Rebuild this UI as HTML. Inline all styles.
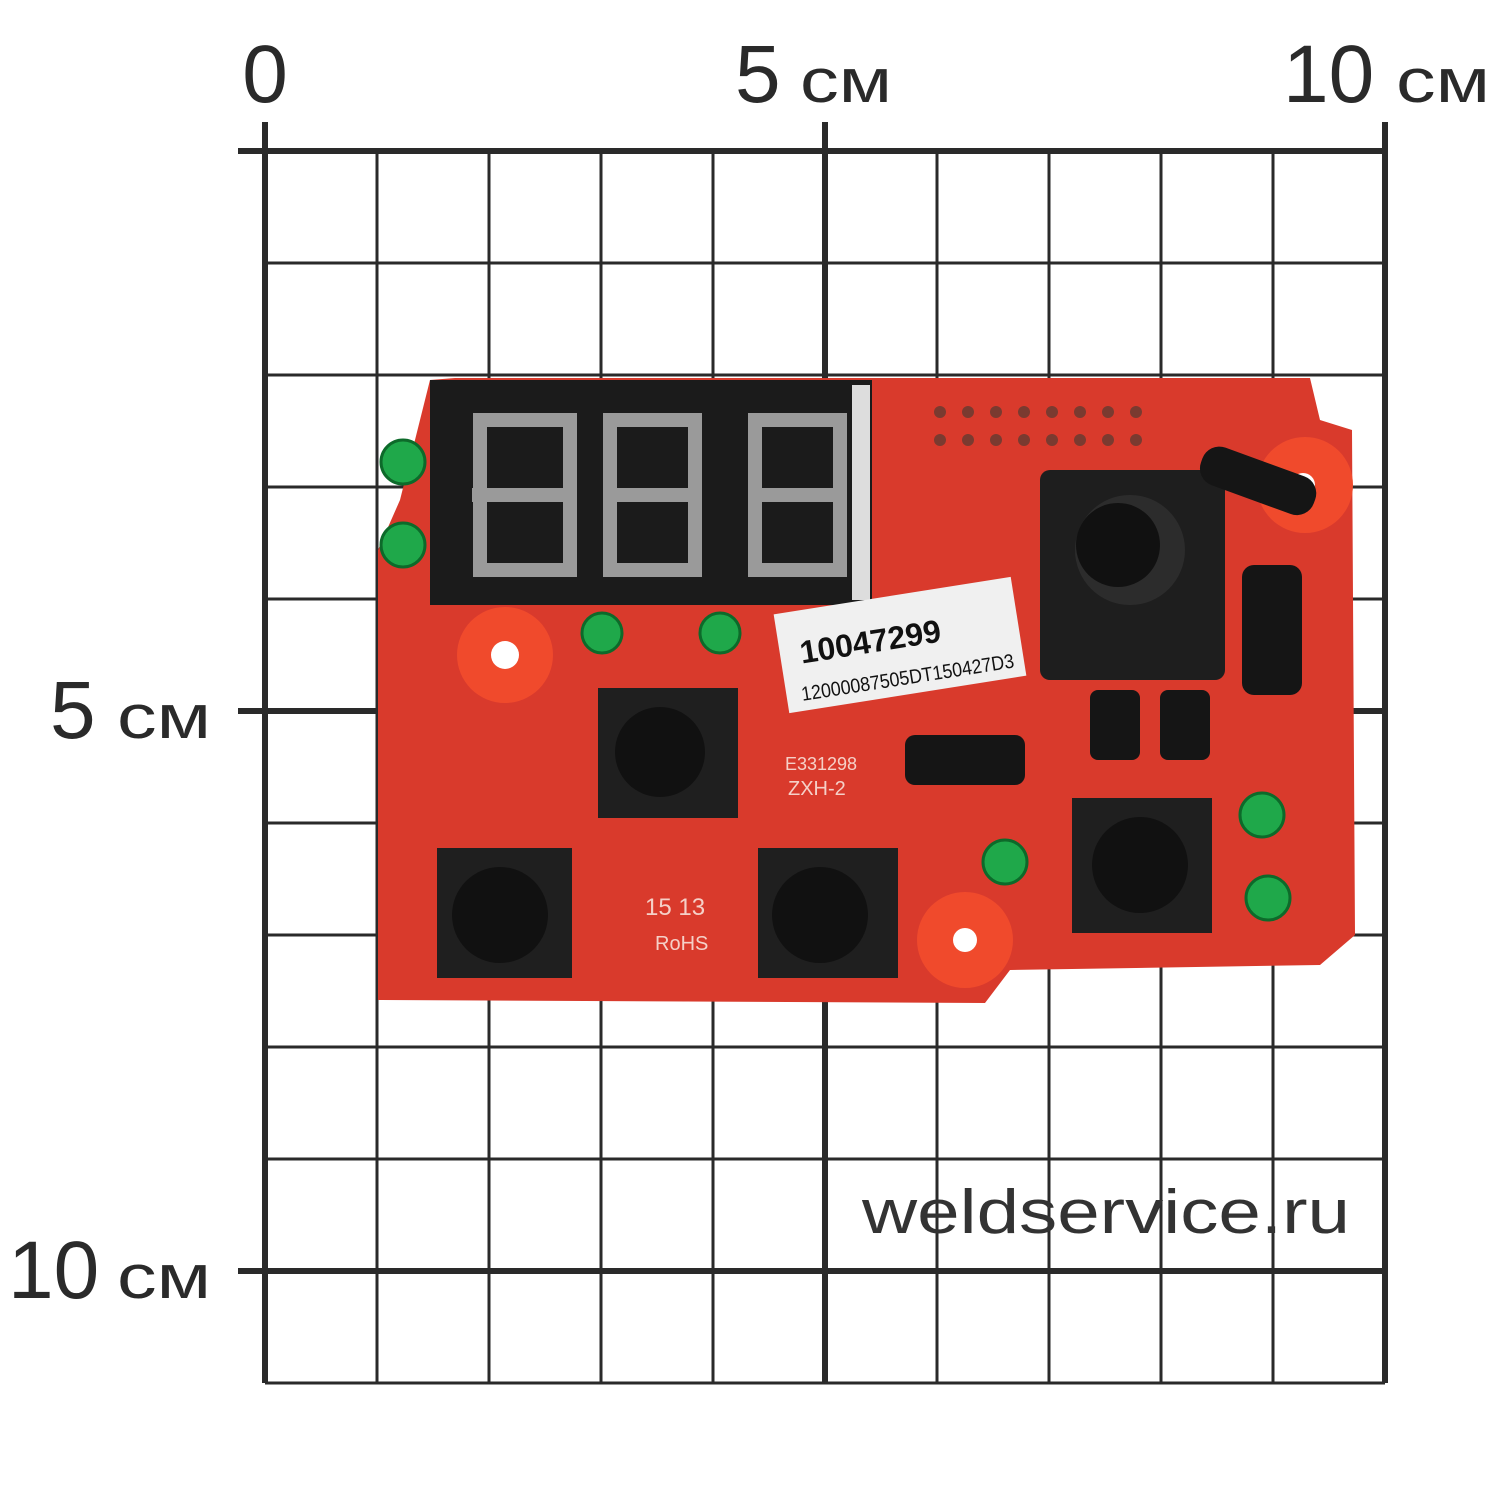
<!DOCTYPE html>
<html><head><meta charset="utf-8"><style>
html,body{margin:0;padding:0;background:#fff;}
svg{display:block;}
text{font-family:"Liberation Sans",sans-serif;}
</style></head><body>
<svg width="1500" height="1500" viewBox="0 0 1500 1500" xmlns="http://www.w3.org/2000/svg">
<rect width="1500" height="1500" fill="#fff"/>
<g stroke="#2a2a2a" stroke-width="3">
<line x1="377" y1="151" x2="377" y2="1383"/><line x1="489" y1="151" x2="489" y2="1383"/><line x1="601" y1="151" x2="601" y2="1383"/><line x1="713" y1="151" x2="713" y2="1383"/><line x1="937" y1="151" x2="937" y2="1383"/><line x1="1049" y1="151" x2="1049" y2="1383"/><line x1="1161" y1="151" x2="1161" y2="1383"/><line x1="1273" y1="151" x2="1273" y2="1383"/>
<line x1="265" y1="263" x2="1385" y2="263"/><line x1="265" y1="375" x2="1385" y2="375"/><line x1="265" y1="487" x2="1385" y2="487"/><line x1="265" y1="599" x2="1385" y2="599"/><line x1="265" y1="823" x2="1385" y2="823"/><line x1="265" y1="935" x2="1385" y2="935"/><line x1="265" y1="1047" x2="1385" y2="1047"/><line x1="265" y1="1159" x2="1385" y2="1159"/><line x1="265" y1="1383" x2="1385" y2="1383"/>
</g>
<g stroke="#2a2a2a" stroke-width="6">
<line x1="238" y1="151" x2="1385" y2="151"/><line x1="238" y1="711" x2="1385" y2="711"/><line x1="238" y1="1271" x2="1385" y2="1271"/>
<line x1="265" y1="122" x2="265" y2="1383"/><line x1="825" y1="122" x2="825" y2="1383"/><line x1="1385" y1="122" x2="1385" y2="1383"/>
</g>
<g fill="#2a2a2a">
<text x="265" y="102" font-size="82" text-anchor="middle">0</text>
<text x="735" y="102" font-size="82">5</text><text x="800" y="102" font-size="62" textLength="92" lengthAdjust="spacingAndGlyphs">см</text>
<text x="1283" y="102" font-size="82">10</text><text x="1396" y="102" font-size="62" textLength="94" lengthAdjust="spacingAndGlyphs">см</text>
<text x="50" y="738" font-size="82">5</text><text x="117" y="738" font-size="62" textLength="94" lengthAdjust="spacingAndGlyphs">см</text>
<text x="8" y="1298" font-size="82">10</text><text x="117" y="1298" font-size="62" textLength="94" lengthAdjust="spacingAndGlyphs">см</text>
<text x="862" y="1233" font-size="62" fill="#333" textLength="488" lengthAdjust="spacingAndGlyphs">weldservice.ru</text>
</g>
<path d="M455 378 L1310 378 L1320 420 L1352 430 L1355 935 L1320 965 L1010 970 L985 1003 L378 1000 L378 550 L400 500 L430 380 Z" fill="#d93a2c"/>
<circle cx="505" cy="655" r="48" fill="#f04a2c"/><circle cx="505" cy="655" r="14" fill="#fff"/>
<circle cx="1305" cy="485" r="48" fill="#f04a2c"/><circle cx="1303" cy="485" r="12" fill="#fff"/>
<circle cx="965" cy="940" r="48" fill="#f04a2c"/><circle cx="965" cy="940" r="12" fill="#fff"/>
<rect x="430" y="380" width="442" height="225" fill="#1b1b1b"/>
<rect x="852" y="385" width="18" height="215" fill="#ddd"/>
<g fill="none" stroke="#9a9a9a" stroke-width="14">
<path d="M480 420 H570 V570 H480 Z M472 495 H568"/>
<path d="M610 420 H695 V570 H610 Z M605 495 H690"/>
<path d="M755 420 H840 V570 H755 Z M750 495 H835"/>
</g>
<g transform="rotate(-9 900 645)"><rect x="780" y="595" width="240" height="100" fill="#f0f0f0"/>
<text x="800" y="648" font-size="32" font-weight="bold" fill="#111">10047299</text>
<text x="795" y="685" font-size="20" fill="#111" textLength="215" lengthAdjust="spacingAndGlyphs">12000087505DT150427D3</text></g>
<g fill="#1fa84a" stroke="#0d6a2a" stroke-width="3">
<circle cx="403" cy="462" r="22"/><circle cx="403" cy="545" r="22"/>
<circle cx="602" cy="633" r="20"/><circle cx="720" cy="633" r="20"/>
<circle cx="1005" cy="862" r="22"/><circle cx="1262" cy="815" r="22"/><circle cx="1268" cy="898" r="22"/>
</g>
<g fill="#7a3a30">
<circle cx="940" cy="412" r="6"/><circle cx="968" cy="412" r="6"/><circle cx="996" cy="412" r="6"/><circle cx="1024" cy="412" r="6"/><circle cx="1052" cy="412" r="6"/><circle cx="1080" cy="412" r="6"/><circle cx="1108" cy="412" r="6"/><circle cx="1136" cy="412" r="6"/>
<circle cx="940" cy="440" r="6"/><circle cx="968" cy="440" r="6"/><circle cx="996" cy="440" r="6"/><circle cx="1024" cy="440" r="6"/><circle cx="1052" cy="440" r="6"/><circle cx="1080" cy="440" r="6"/><circle cx="1108" cy="440" r="6"/><circle cx="1136" cy="440" r="6"/>
</g>
<rect x="1040" y="470" width="185" height="210" rx="10" fill="#1e1e1e"/>
<circle cx="1130" cy="550" r="55" fill="#2c2c2c"/><circle cx="1118" cy="545" r="42" fill="#111"/>
<g fill="#151515">
<rect x="1185" y="395" width="40" height="120" rx="18" transform="rotate(-70 1250 430)"/>
<rect x="1242" y="565" width="60" height="130" rx="12"/>
<rect x="1090" y="690" width="50" height="70" rx="8"/><rect x="1160" y="690" width="50" height="70" rx="8"/>
<rect x="905" y="735" width="120" height="50" rx="10"/>
</g>
<g>
<rect x="598" y="688" width="140" height="130" fill="#1f1f1f"/><circle cx="660" cy="752" r="45" fill="#111"/>
<rect x="437" y="848" width="135" height="130" fill="#1f1f1f"/><circle cx="500" cy="915" r="48" fill="#111"/>
<rect x="758" y="848" width="140" height="130" fill="#1f1f1f"/><circle cx="820" cy="915" r="48" fill="#111"/>
<rect x="1072" y="798" width="140" height="135" fill="#1f1f1f"/><circle cx="1140" cy="865" r="48" fill="#111"/>
</g>
<g fill="#f5d0c8" font-size="18">
<text x="785" y="770">E331298</text><text x="788" y="795" font-size="20">ZXH-2</text>
<text x="655" y="950" font-size="20">RoHS</text><text x="645" y="915" font-size="24">15 13</text>
</g>
</svg>
</body></html>
